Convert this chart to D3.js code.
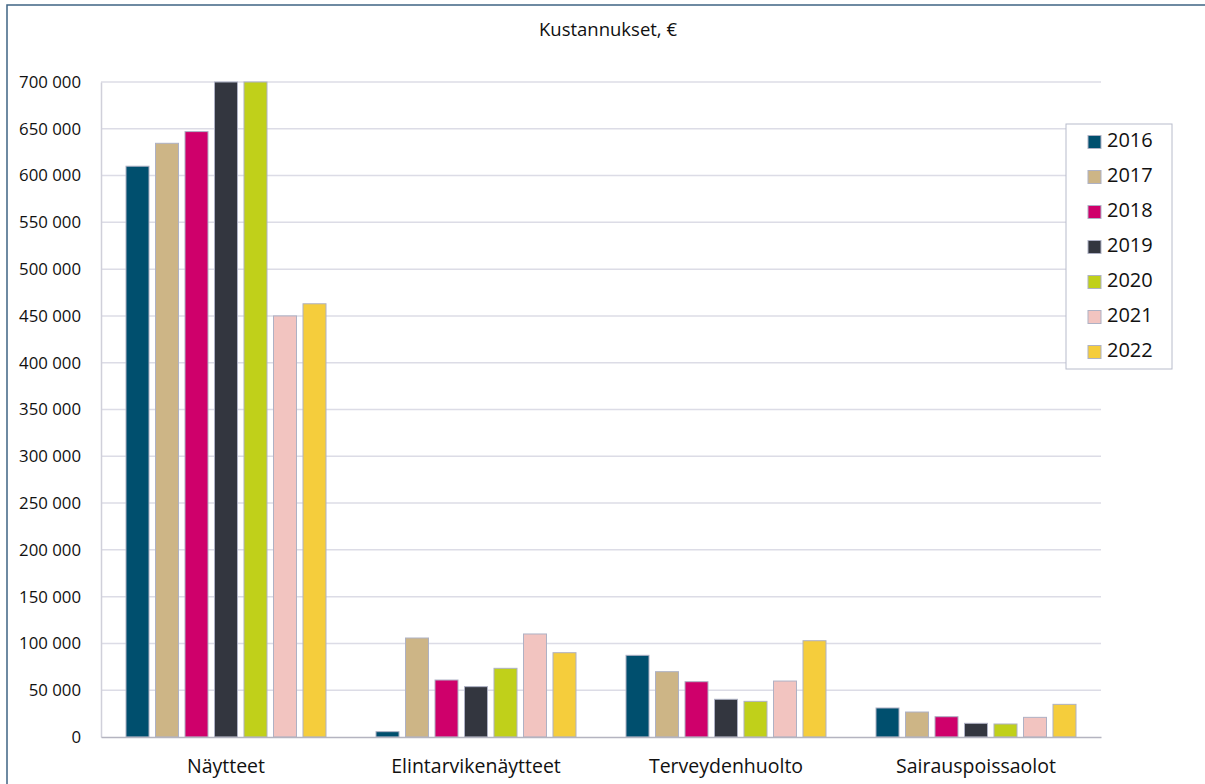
<!DOCTYPE html>
<html>
<head>
<meta charset="utf-8">
<script src="https://cdn.jsdelivr.net/npm/d3@7"></script>
<style>
  html, body { margin: 0; background: #fff; overflow: hidden; }
  svg { display: block; }
  text { font-family: "Open Sans", sans-serif; fill: #111; }
</style>
</head>
<body>
<div id="chart"></div>
<script>
// Data
const categories = ["Näytteet", "Elintarvikenäytteet", "Terveydenhuolto", "Sairauspoissaolot"];
const years = ["2016", "2017", "2018", "2019", "2020", "2021", "2022"];
const colors = ["#004f6e", "#cdb586", "#cf006b", "#33363f", "#c0d01a", "#f2c4c0", "#f5cd3c"];
// values per year, in category order (2019 and 2020 Näytteet run off the top of the axis)
const v2016 = [610000, 5700, 87300, 31000];
const v2017 = [634500, 105800, 69800, 26700];
const v2018 = [647000, 60900, 59100, 21700];
const v2019 = [700000, 53800, 40300, 14600];
const v2020 = [700000, 73400, 38100, 13900];
const v2021 = [450000, 110100, 59800, 21000];
const v2022 = [463000, 90100, 102900, 34900];
const yTicks = d3.range(0, 700001, 50000);

const series = [v2016, v2017, v2018, v2019, v2020, v2021, v2022];

// Dimensions
const W = 1205, H = 784;
const margin = { top: 82, right: 104, bottom: 47, left: 101 };
const width = W - margin.left - margin.right;
const height = H - margin.top - margin.bottom;

const svg = d3.select("#chart").append("svg")
  .attr("width", W)
  .attr("height", H);

// outer frame
svg.append("rect")
  .attr("x", 7).attr("y", 5)
  .attr("width", W).attr("height", H)
  .style("fill", "none")
  .style("stroke", "#3f6484")
  .style("stroke-width", 1.5);

svg.append("text")
  .attr("x", 608).attr("y", 31)
  .attr("text-anchor", "middle")
  .attr("dominant-baseline", "middle")
  .style("font-size", "18.5px")
  .text("Kustannukset, €");

const g = svg.append("g")
  .attr("transform", `translate(${margin.left}, ${margin.top})`);

const x0 = d3.scaleBand().domain(categories).range([0, width]);
const x1 = d3.scaleBand().domain(years).range([25, 225]).paddingInner(0.22);
const y = d3.scaleLinear().domain([0, 700000]).range([height, 0]);

// gridlines
g.selectAll(".grid")
  .data(yTicks.filter(d => d > 0))
  .join("line")
  .attr("x1", 0).attr("x2", width)
  .attr("y1", d => y(d)).attr("y2", d => y(d))
  .style("stroke", "#dcdce6")
  .style("stroke-width", 1.5);

// y axis
const yAxis = g.append("g")
  .call(d3.axisLeft(y).tickValues(yTicks).tickSize(0).tickPadding(20)
    .tickFormat(d => d3.format(",")(d).replace(/,/g, " ")));
yAxis.select(".domain").style("stroke", "#d0d0da").style("stroke-width", 1.5);
yAxis.selectAll("text").style("font-size", "16.8px").attr("font-family", null);

// bars
const groups = g.selectAll(".cat")
  .data(categories)
  .join("g")
  .attr("transform", d => `translate(${x0(d)},0)`);

groups.selectAll("rect")
  .data((c, ci) => years.map((yr, i) => ({ yr, i, v: series[i][ci] })))
  .join("rect")
  .attr("x", d => x1(d.yr))
  .attr("width", x1.bandwidth())
  .attr("y", d => y(Math.min(d.v, 700000)))
  .attr("height", d => height - y(Math.min(d.v, 700000)))
  .style("fill", d => colors[d.i])
  .style("stroke", "#aeb1c4")
  .style("stroke-width", 1);

// x axis
const xAxis = g.append("g")
  .attr("transform", `translate(0, ${height})`)
  .call(d3.axisBottom(x0).tickSize(0).tickPadding(22));
xAxis.select(".domain").style("stroke", "#b4b4c0").style("stroke-width", 1.5);
xAxis.selectAll("text").style("font-size", "19.5px").attr("font-family", null);

// legend
const lg = svg.append("g").attr("transform", "translate(1066, 124)");
lg.append("rect")
  .attr("width", 106).attr("height", 245)
  .style("fill", "#fff")
  .style("stroke", "#b8bccb");
const items = lg.selectAll(".item")
  .data(years)
  .join("g")
  .attr("transform", (d, i) => `translate(0, ${18 + i * 35})`);
items.append("rect")
  .attr("x", 22).attr("y", -6.5)
  .attr("width", 13).attr("height", 13)
  .style("fill", (d, i) => colors[i])
  .style("stroke", "#aeb1c4");
items.append("text")
  .attr("x", 41)
  .attr("dominant-baseline", "middle")
  .style("font-size", "20px")
  .text(d => d);
</script>
</body>
</html>
